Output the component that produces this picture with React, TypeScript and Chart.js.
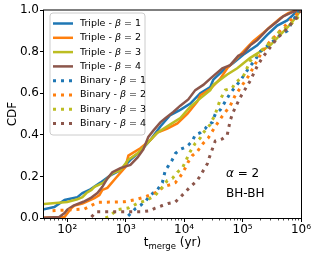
import React, { useEffect, useRef } from "react";
import { Chart, registerables } from "chart.js";
Chart.register(...registerables);

const FONT = '"DejaVu Sans", "Liberation Sans", sans-serif';

// ---------- data (t_merge in yr, CDF) ----------
const tripleB1T = [35, 60, 90, 149, 182, 239, 369, 547, 811, 1203, 1783, 2644, 3917, 5808, 8610, 12760, 18910, 28030, 31550, 46800, 69300, 102700, 178300, 264300, 391700, 580500, 795700, 968800];
const tripleB1C = [0.038, 0.053, 0.087, 0.1, 0.12, 0.135, 0.17, 0.205, 0.23, 0.28, 0.32, 0.375, 0.44, 0.495, 0.52, 0.55, 0.6, 0.63, 0.665, 0.71, 0.745, 0.785, 0.83, 0.88, 0.925, 0.95, 0.985, 1.0];

const tripleB2T = [35, 90, 118, 133, 182, 292, 355, 399, 486, 667, 988, 1112, 1783, 2644, 3483, 5160, 7650, 11330, 16790, 18910, 28030, 41560, 54700, 81100, 120200, 152300, 225700, 297400, 440900, 603500, 861000];
const tripleB2C = [0.0, 0.005, 0.048, 0.06, 0.07, 0.095, 0.11, 0.135, 0.145, 0.19, 0.245, 0.3, 0.335, 0.375, 0.41, 0.43, 0.455, 0.5, 0.56, 0.59, 0.62, 0.67, 0.72, 0.77, 0.82, 0.85, 0.89, 0.92, 0.96, 0.985, 1.0];

const tripleB3T = [35, 100, 149, 182, 213, 259, 292, 416, 592, 811, 1112, 1585, 2350, 3483, 5808, 8610, 12760, 18910, 28030, 31550, 54700, 81100, 135300, 200600, 297400, 440900, 603500, 795700, 968800, 1000000];
const tripleB3C = [0.066, 0.077, 0.09, 0.1, 0.12, 0.135, 0.15, 0.17, 0.215, 0.23, 0.28, 0.31, 0.36, 0.41, 0.45, 0.48, 0.535, 0.575, 0.615, 0.64, 0.69, 0.72, 0.77, 0.8, 0.83, 0.88, 0.92, 0.96, 0.995, 1.0];

const tripleB4T = [35, 73, 90, 100, 128, 189, 249, 328, 399, 486, 592, 811, 1203, 1585, 2004, 2443, 2972, 3917, 4770, 6530, 8610, 11780, 15530, 21280, 28030, 45000, 61600, 84300, 102700, 135300, 178300, 217300, 274600, 391700, 496600, 653500, 861000];
const tripleB4C = [0.0, 0.005, 0.024, 0.04, 0.06, 0.078, 0.095, 0.12, 0.15, 0.19, 0.22, 0.24, 0.255, 0.29, 0.33, 0.39, 0.42, 0.46, 0.48, 0.51, 0.54, 0.57, 0.615, 0.64, 0.67, 0.72, 0.735, 0.78, 0.79, 0.83, 0.855, 0.88, 0.91, 0.945, 0.97, 0.985, 1.0];

const binaryB1T = [1100, 1203, 1465, 1783, 2172, 2644, 3483, 4240, 4770, 5370, 6280, 7070, 8610, 10480, 11780, 13800, 15530, 18910, 23020, 25880, 30320, 34130, 41560, 61600, 91300, 120200, 135300, 164800, 200600, 274600, 440900, 580500, 734600, 895000, 1000000];
const binaryB1C = [0.01, 0.02, 0.045, 0.06, 0.08, 0.11, 0.135, 0.17, 0.23, 0.25, 0.28, 0.31, 0.33, 0.34, 0.35, 0.37, 0.4, 0.41, 0.43, 0.45, 0.46, 0.5, 0.52, 0.6, 0.66, 0.71, 0.73, 0.76, 0.8, 0.83, 0.88, 0.9, 0.95, 0.99, 1.0];

const binaryB2T = [56, 197, 328, 951, 1406, 2084, 3090, 3483, 4410, 5808, 7070, 8610, 10480, 11780, 13800, 16790, 18910, 21280, 25880, 34130, 45000, 61600, 75000, 91300, 125000, 164800, 217300, 297400, 440900, 653500, 1000000];
const binaryB2C = [0.035, 0.043, 0.075, 0.078, 0.087, 0.1, 0.12, 0.125, 0.15, 0.16, 0.17, 0.2, 0.24, 0.27, 0.3, 0.32, 0.34, 0.36, 0.385, 0.44, 0.49, 0.54, 0.59, 0.625, 0.68, 0.74, 0.8, 0.85, 0.9, 0.95, 1.0];

const binaryB3T = [450, 506, 721, 1112, 1585, 2350, 3216, 3917, 5160, 6280, 7650, 9310, 10480, 11780, 12760, 15530, 18910, 21280, 28030, 34130, 41560, 50600, 66700, 75000, 102700, 135300, 217300, 264300, 334400, 440900, 603500, 861000, 1000000];
const binaryB3C = [0.0, 0.005, 0.04, 0.048, 0.07, 0.087, 0.11, 0.135, 0.18, 0.19, 0.22, 0.24, 0.27, 0.3, 0.32, 0.36, 0.385, 0.41, 0.45, 0.5, 0.57, 0.615, 0.625, 0.65, 0.68, 0.755, 0.81, 0.83, 0.865, 0.9, 0.92, 0.96, 1.0];

const binaryB4T = [259, 315, 1783, 2644, 3216, 4240, 5370, 7070, 9310, 10480, 12760, 16790, 20460, 24890, 26920, 30320, 34130, 45000, 54700, 61600, 69300, 91300, 135300, 178300, 217300, 297400, 391700, 536800, 706300, 895000, 1000000];
const binaryB4C = [0.005, 0.03, 0.03, 0.035, 0.048, 0.06, 0.07, 0.077, 0.11, 0.125, 0.15, 0.18, 0.22, 0.26, 0.29, 0.33, 0.37, 0.38, 0.4, 0.47, 0.51, 0.58, 0.66, 0.73, 0.77, 0.82, 0.865, 0.9, 0.94, 0.97, 1.0];

const seriesKind = ["Triple", "Triple", "Triple", "Triple", "Binary", "Binary", "Binary", "Binary"];
const seriesBeta = ["1", "2", "3", "4", "1", "2", "3", "4"];
const seriesColors = ["#1f77b4", "#ff7f0e", "#bcbd22", "#8c564b", "#1f77b4", "#ff7f0e", "#bcbd22", "#8c564b"];
const seriesT = [tripleB1T, tripleB2T, tripleB3T, tripleB4T, binaryB1T, binaryB2T, binaryB3T, binaryB4T];
const seriesC = [tripleB1C, tripleB2C, tripleB3C, tripleB4C, binaryB1C, binaryB2C, binaryB3C, binaryB4C];

const xMin = 40;
const xMax = 1e6;
const xTickValues = [100, 1000, 10000, 100000, 1000000];
const yTickStep = 0.2;
const annotAlpha = "2";
const annotLabel = "BH-BH";
const yTitle = "CDF";

const SUP: Record<string, string> = { "0": "⁰", "1": "¹", "2": "²", "3": "³", "4": "⁴", "5": "⁵", "6": "⁶", "7": "⁷", "8": "⁸", "9": "⁹" };

const DOT_DASH = [3, 5];

const decor = {
  id: "decor",
  afterDraw(chart: any) {
    const { ctx, chartArea: a, scales } = chart;
    const xs = scales.x;
    ctx.save();
    // spines
    ctx.strokeStyle = "#000";
    ctx.lineWidth = 1;
    ctx.setLineDash([]);
    ctx.strokeRect(a.left - 0.5, a.top, a.right - a.left + 1, a.bottom - a.top + 0.5);
    // minor ticks on log axis
    ctx.lineWidth = 0.7;
    ctx.beginPath();
    for (let k = 1; k <= 5; k++) {
      for (let m = 2; m <= 9; m++) {
        const v = m * Math.pow(10, k);
        if (v < xMin || v > xMax) continue;
        const px = Math.round(xs.getPixelForValue(v)) + 0.5;
        ctx.moveTo(px, a.bottom + 0.5);
        ctx.lineTo(px, a.bottom + 2.5);
      }
    }
    ctx.stroke();

    // y title
    ctx.fillStyle = "#000";
    ctx.font = `12px ${FONT}`;
    ctx.save();
    ctx.translate(16, (a.top + a.bottom) / 2);
    ctx.rotate(-Math.PI / 2);
    ctx.textAlign = "center";
    ctx.textBaseline = "alphabetic";
    ctx.fillText(yTitle, 0, 0);
    ctx.restore();

    // x title: t_merge (yr)
    ctx.textAlign = "left";
    ctx.textBaseline = "alphabetic";
    const mainF = `12px ${FONT}`;
    const subF = `8.5px ${FONT}`;
    ctx.font = mainF;
    const wT = ctx.measureText("t").width;
    const wY = ctx.measureText(" (yr)").width;
    ctx.font = subF;
    const wM = ctx.measureText("merge").width;
    const total = wT + wM + wY;
    let x0 = (a.left + a.right) / 2 - total / 2;
    const base = 246;
    ctx.font = mainF;
    ctx.fillText("t", x0, base);
    x0 += wT;
    ctx.font = subF;
    ctx.fillText("merge", x0, base + 2.5);
    x0 += wM;
    ctx.font = mainF;
    ctx.fillText(" (yr)", x0, base);

    // annotation
    ctx.font = `italic 12px ${FONT}`;
    const ax = 226;
    ctx.fillText("α", ax, 177);
    const wa = ctx.measureText("α").width;
    ctx.font = `12px ${FONT}`;
    ctx.fillText(" = " + annotAlpha, ax + wa, 177);
    ctx.fillText(annotLabel, ax, 197);

    // legend
    const lx = 50, ly = 13, lw = 95, lh = 122, r = 3;
    ctx.beginPath();
    ctx.moveTo(lx + r, ly);
    ctx.lineTo(lx + lw - r, ly);
    ctx.quadraticCurveTo(lx + lw, ly, lx + lw, ly + r);
    ctx.lineTo(lx + lw, ly + lh - r);
    ctx.quadraticCurveTo(lx + lw, ly + lh, lx + lw - r, ly + lh);
    ctx.lineTo(lx + r, ly + lh);
    ctx.quadraticCurveTo(lx, ly + lh, lx, ly + lh - r);
    ctx.lineTo(lx, ly + r);
    ctx.quadraticCurveTo(lx, ly, lx + r, ly);
    ctx.closePath();
    ctx.fillStyle = "rgba(255,255,255,0.8)";
    ctx.fill();
    ctx.strokeStyle = "#cccccc";
    ctx.lineWidth = 1;
    ctx.stroke();

    for (let i = 0; i < seriesKind.length; i++) {
      const cy = 23.5 + i * 14.3;
      const binary = seriesKind[i] === "Binary";
      ctx.strokeStyle = seriesColors[i];
      ctx.lineWidth = binary ? 3 : 2.5;
      ctx.lineCap = "butt";
      ctx.setLineDash(binary ? DOT_DASH : []);
      ctx.beginPath();
      ctx.moveTo(53, cy);
      ctx.lineTo(73, cy);
      ctx.stroke();
      ctx.setLineDash([]);
      ctx.fillStyle = "#000";
      ctx.textBaseline = "middle";
      let tx = 80;
      ctx.font = `9.5px ${FONT}`;
      const pre = seriesKind[i] + " - ";
      ctx.fillText(pre, tx, cy);
      tx += ctx.measureText(pre).width;
      ctx.font = `italic 9.5px ${FONT}`;
      ctx.fillText("β", tx, cy);
      tx += ctx.measureText("β").width;
      ctx.font = `9.5px ${FONT}`;
      ctx.fillText(" = " + seriesBeta[i], tx, cy);
    }
    ctx.restore();
  },
};

export default function App() {
  const ref = useRef<HTMLCanvasElement | null>(null);
  useEffect(() => {
    document.body.style.margin = "0";
    if (!ref.current) return;
    const datasets = seriesT.map((ts, i) => {
      const binary = seriesKind[i] === "Binary";
      return {
        label: `${seriesKind[i]} - β = ${seriesBeta[i]}`,
        data: ts.map((t, j) => ({ x: t, y: seriesC[i][j] })),
        borderColor: seriesColors[i],
        backgroundColor: seriesColors[i],
        borderWidth: binary ? 3 : 2.5,
        borderDash: binary ? DOT_DASH : [],
        borderCapStyle: "butt" as const,
        borderJoinStyle: "miter" as const,
        pointRadius: 0,
        fill: false,
        tension: 0,
        order: seriesKind.length - i,
      };
    });
    const chart = new Chart(ref.current, {
      type: "line",
      data: { datasets },
      options: {
        animation: false,
        responsive: false,
        maintainAspectRatio: false,
        layout: { padding: { top: 10, right: 17, left: 0, bottom: 0 } },
        plugins: { legend: { display: false }, tooltip: { enabled: false } },
        scales: {
          x: {
            type: "logarithmic",
            min: xMin,
            max: xMax,
            afterBuildTicks: (s: any) => {
              s.ticks = xTickValues.map((v) => ({ value: v }));
            },
            afterFit: (s: any) => {
              s.height = 40;
            },
            grid: { display: true, drawOnChartArea: false, drawTicks: true, tickLength: 4, tickColor: "#000", tickWidth: 1 },
            border: { display: false },
            ticks: {
              autoSkip: false,
              maxRotation: 0,
              padding: 1,
              color: "#000",
              font: { family: FONT, size: 12 },
              callback: (v: any) => {
                const e = String(Math.round(Math.log10(Number(v))));
                return "10" + e.split("").map((c) => SUP[c]).join("");
              },
            },
          },
          y: {
            type: "linear",
            min: 0,
            max: 1,
            afterFit: (s: any) => {
              s.width = 44;
            },
            grid: { display: true, drawOnChartArea: false, drawTicks: true, tickLength: 4, tickColor: "#000", tickWidth: 1 },
            border: { display: false },
            ticks: {
              stepSize: yTickStep,
              padding: 1,
              color: "#000",
              font: { family: FONT, size: 12 },
              callback: (v: any) => Number(v).toFixed(1),
            },
          },
        },
      },
      plugins: [decor],
    });
    return () => chart.destroy();
  }, []);
  return (
    <div style={{ width: 318, height: 258 }}>
      <canvas ref={ref} width={318} height={258} />
    </div>
  );
}
